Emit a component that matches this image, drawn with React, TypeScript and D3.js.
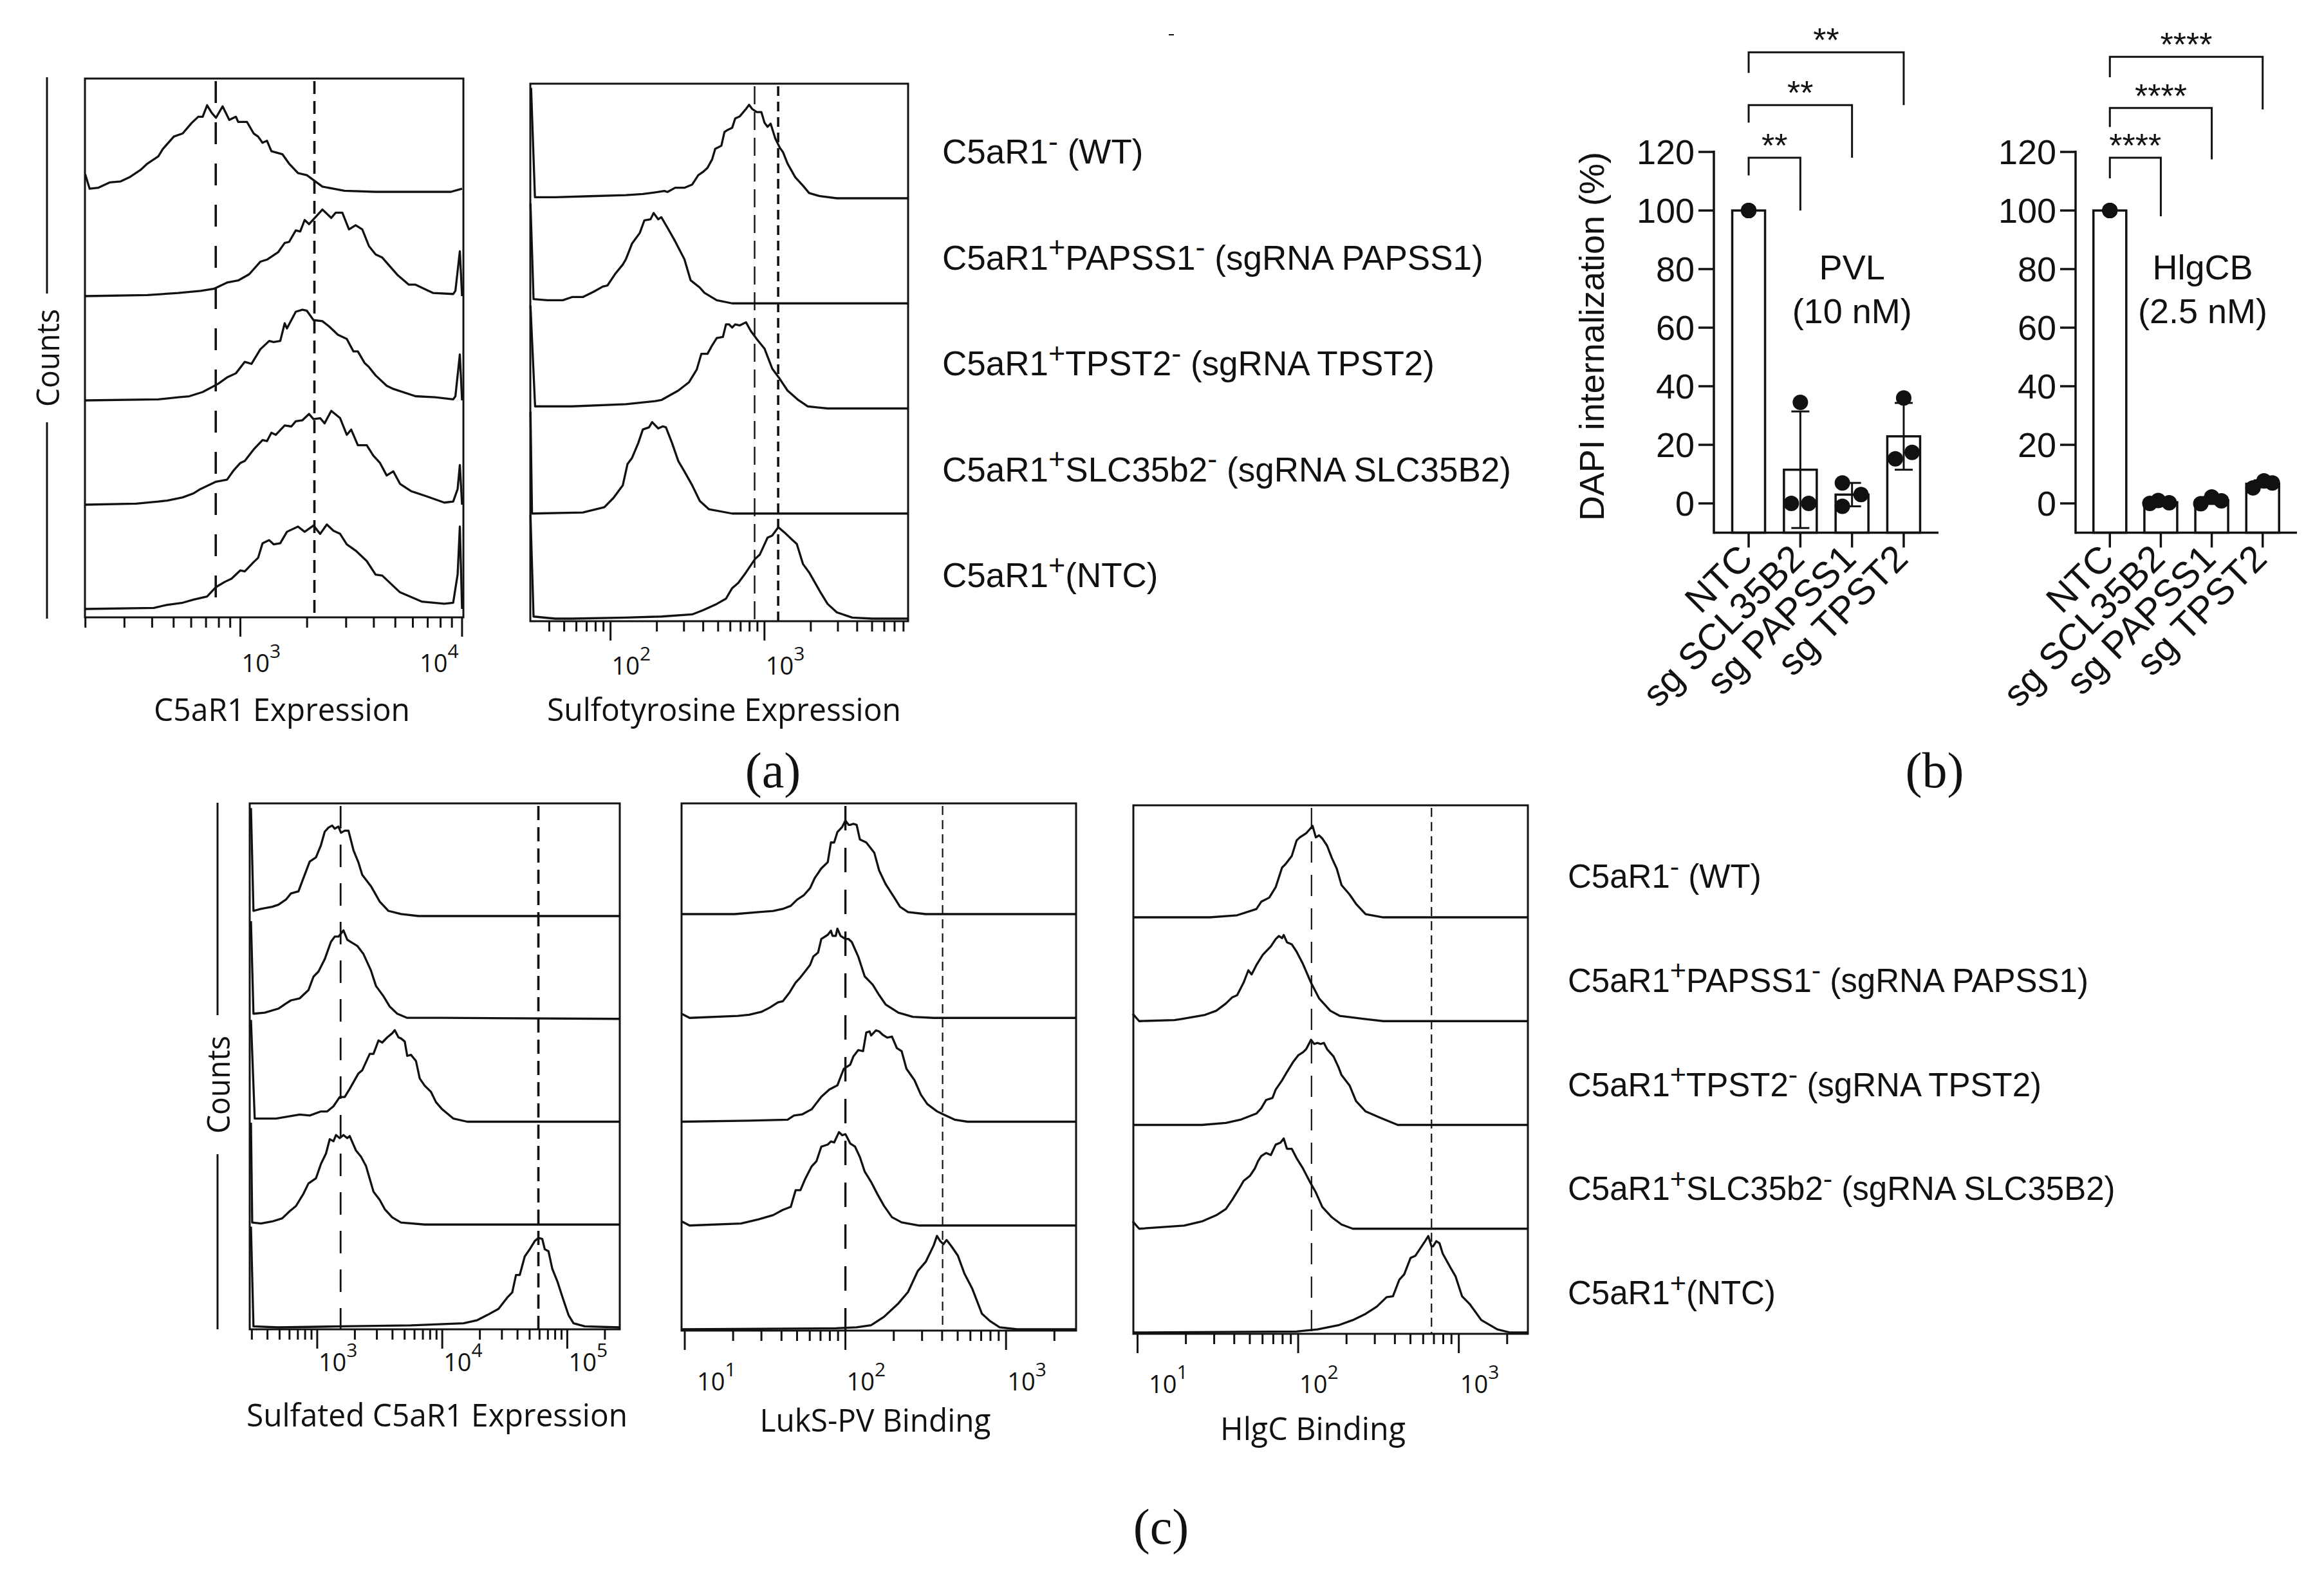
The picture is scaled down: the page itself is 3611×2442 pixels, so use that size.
import React from "react";
import * as d3 from "d3";

type Curve = [number[], number[]];
type Part = { t: string; sup?: boolean };

// ---------- Row (sample) labels ----------
const groupLabels: Part[][] = [
  [{ t: "C5aR1" }, { t: "-", sup: true }, { t: " (WT)" }],
  [{ t: "C5aR1" }, { t: "+", sup: true }, { t: "PAPSS1" }, { t: "-", sup: true }, { t: " (sgRNA PAPSS1)" }],
  [{ t: "C5aR1" }, { t: "+", sup: true }, { t: "TPST2" }, { t: "-", sup: true }, { t: " (sgRNA TPST2)" }],
  [{ t: "C5aR1" }, { t: "+", sup: true }, { t: "SLC35b2" }, { t: "-", sup: true }, { t: " (sgRNA SLC35B2)" }],
  [{ t: "C5aR1" }, { t: "+", sup: true }, { t: "(NTC)" }],
];

// ---------- Histogram data: [log10(intensity)], [count, in row heights] ----------
const c5ar1Curves: Curve[] = [
  [[2.30,2.32,2.36,2.41,2.46,2.50,2.55,2.58,2.63,2.65,2.70,2.74,2.78,2.81,2.83,2.85,2.87,2.89,2.92,2.95,2.98,2.99,3.03,3.06,3.08,3.10,3.12,3.14,3.19,3.22,3.26,3.30,3.37,3.47,3.61,3.95,4.0],
   [0.17,0.03,0.04,0.09,0.10,0.14,0.21,0.27,0.34,0.41,0.53,0.56,0.66,0.72,0.72,0.83,0.76,0.71,0.82,0.69,0.72,0.67,0.67,0.56,0.53,0.47,0.49,0.39,0.36,0.27,0.18,0.16,0.05,0.01,0,0,0.03]],
  [[2.30,2.58,2.72,2.82,2.88,2.94,2.99,3.04,3.09,3.12,3.17,3.20,3.22,3.25,3.27,3.29,3.31,3.37,3.41,3.43,3.46,3.49,3.52,3.55,3.58,3.61,3.64,3.71,3.76,3.79,3.87,3.96,3.97,3.99,4.0],
   [0,0.01,0.03,0.05,0.07,0.13,0.15,0.21,0.33,0.35,0.42,0.51,0.52,0.63,0.62,0.73,0.69,0.83,0.75,0.80,0.80,0.64,0.68,0.64,0.48,0.40,0.37,0.20,0.11,0.11,0.03,0.02,0.05,0.43,0]],
  [[2.30,2.63,2.72,2.77,2.83,2.90,2.94,2.98,3.02,3.05,3.09,3.13,3.15,3.18,3.20,3.21,3.25,3.28,3.30,3.33,3.37,3.40,3.44,3.48,3.51,3.53,3.56,3.58,3.61,3.66,3.69,3.79,3.88,3.96,3.97,3.99,4.0],
   [0,0.01,0.03,0.04,0.08,0.16,0.22,0.26,0.37,0.35,0.49,0.57,0.56,0.57,0.74,0.69,0.85,0.87,0.86,0.77,0.76,0.71,0.63,0.59,0.47,0.47,0.36,0.32,0.24,0.14,0.11,0.04,0.03,0.01,0.04,0.44,0]],
  [[2.30,2.53,2.63,2.67,2.74,2.79,2.82,2.89,2.94,2.97,3.00,3.02,3.06,3.10,3.12,3.14,3.16,3.20,3.23,3.25,3.28,3.31,3.33,3.36,3.38,3.41,3.45,3.48,3.50,3.53,3.57,3.60,3.63,3.66,3.69,3.72,3.77,3.84,3.92,3.96,3.98,3.99,4.0],
   [0,0.01,0.03,0.04,0.07,0.11,0.15,0.22,0.24,0.33,0.40,0.42,0.53,0.62,0.61,0.69,0.67,0.76,0.75,0.80,0.81,0.87,0.82,0.83,0.78,0.90,0.83,0.67,0.72,0.57,0.57,0.47,0.40,0.28,0.32,0.20,0.13,0.08,0.02,0.03,0.15,0.38,0]],
  [[2.30,2.61,2.67,2.74,2.79,2.85,2.89,2.93,2.96,3.00,3.02,3.06,3.08,3.10,3.13,3.15,3.18,3.21,3.23,3.26,3.29,3.33,3.36,3.39,3.42,3.45,3.48,3.52,3.57,3.61,3.64,3.72,3.82,3.92,3.96,3.98,3.99,4.0],
   [0,0.01,0.04,0.06,0.09,0.12,0.21,0.26,0.29,0.37,0.36,0.45,0.49,0.63,0.66,0.62,0.63,0.74,0.76,0.79,0.74,0.80,0.72,0.81,0.75,0.72,0.62,0.56,0.46,0.33,0.32,0.16,0.07,0.05,0.06,0.33,0.79,0]],
];

const sulfoCurves: Curve[] = [
  [[1.484,1.509,1.64,1.87,2.10,2.21,2.31,2.35,2.37,2.42,2.48,2.53,2.57,2.60,2.63,2.66,2.68,2.72,2.74,2.76,2.79,2.81,2.84,2.88,2.90,2.92,2.95,2.98,3.00,3.02,3.04,3.07,3.10,3.12,3.15,3.20,3.25,3.29,3.36,3.47,3.93],
   [1.05,0.01,0.01,0.02,0.03,0.04,0.06,0.07,0.06,0.10,0.10,0.13,0.22,0.25,0.29,0.37,0.47,0.50,0.63,0.65,0.67,0.76,0.78,0.85,0.89,0.85,0.82,0.82,0.72,0.68,0.71,0.57,0.48,0.44,0.33,0.20,0.12,0.05,0.02,0,0]],
  [[1.48,1.50,1.59,1.69,1.75,1.82,1.89,1.95,1.98,2.03,2.08,2.10,2.14,2.19,2.22,2.26,2.28,2.31,2.33,2.37,2.42,2.48,2.52,2.58,2.61,2.69,2.79,3.02,3.93],
   [0.95,0.04,0.03,0.03,0.06,0.06,0.11,0.16,0.17,0.28,0.37,0.42,0.57,0.67,0.79,0.80,0.86,0.80,0.82,0.72,0.59,0.42,0.22,0.15,0.10,0.03,0,0,0]],
  [[1.48,1.51,1.75,2.10,2.29,2.33,2.44,2.51,2.56,2.59,2.63,2.66,2.69,2.73,2.75,2.77,2.79,2.81,2.84,2.88,2.91,2.95,3.00,3.05,3.10,3.15,3.22,3.28,3.41,3.93],
   [0.98,0.02,0.02,0.04,0.07,0.08,0.17,0.25,0.37,0.52,0.52,0.60,0.67,0.68,0.80,0.80,0.77,0.80,0.79,0.82,0.74,0.66,0.57,0.38,0.28,0.17,0.08,0.02,0,0]],
  [[1.48,1.49,1.82,1.96,2.02,2.08,2.11,2.14,2.18,2.21,2.25,2.27,2.31,2.34,2.36,2.40,2.44,2.48,2.53,2.58,2.64,2.79,3.93],
   [0.97,0,0.01,0.06,0.15,0.27,0.47,0.53,0.67,0.80,0.82,0.87,0.81,0.83,0.82,0.67,0.50,0.40,0.27,0.12,0.04,0,0]],
  [[1.48,1.50,1.64,1.75,2.10,2.33,2.53,2.60,2.69,2.75,2.79,2.83,2.88,2.94,2.97,3.02,3.05,3.09,3.13,3.18,3.21,3.25,3.29,3.36,3.41,3.47,3.57,3.70,3.93],
   [0.99,0.02,0,0,0.01,0.02,0.04,0.08,0.14,0.19,0.29,0.34,0.44,0.57,0.61,0.77,0.79,0.87,0.82,0.75,0.71,0.52,0.44,0.26,0.14,0.06,0.01,0,0]],
];

const sulfatedCurves: Curve[] = [
  [[2.47,2.49,2.55,2.64,2.69,2.75,2.79,2.85,2.89,2.94,2.99,3.03,3.06,3.09,3.12,3.14,3.17,3.19,3.22,3.25,3.29,3.33,3.36,3.43,3.50,3.57,3.67,3.81,5.42],
   [1.05,0.05,0.07,0.09,0.11,0.16,0.22,0.24,0.37,0.53,0.57,0.69,0.82,0.86,0.88,0.85,0.87,0.81,0.83,0.83,0.64,0.52,0.40,0.29,0.14,0.05,0.02,0,0]],
  [[2.47,2.49,2.58,2.69,2.75,2.79,2.86,2.93,2.97,3.01,3.06,3.11,3.14,3.17,3.21,3.24,3.28,3.32,3.37,3.43,3.47,3.53,3.58,3.64,3.72,4.00,5.42],
   [0.95,0.05,0.06,0.10,0.15,0.18,0.20,0.28,0.41,0.46,0.58,0.75,0.80,0.80,0.86,0.77,0.74,0.71,0.63,0.47,0.32,0.22,0.12,0.05,0.01,0.01,0]],
  [[2.47,2.50,2.67,2.86,2.94,3.03,3.08,3.13,3.18,3.22,3.26,3.33,3.36,3.42,3.45,3.49,3.52,3.56,3.60,3.62,3.65,3.67,3.70,3.72,3.75,3.79,3.82,3.86,3.91,3.95,4.00,4.09,4.20,5.42],
   [0.99,0.03,0.03,0.07,0.06,0.10,0.10,0.15,0.24,0.24,0.32,0.47,0.50,0.66,0.66,0.79,0.77,0.82,0.86,0.89,0.82,0.81,0.78,0.64,0.65,0.59,0.42,0.35,0.29,0.19,0.12,0.03,0,0]],
  [[2.47,2.48,2.55,2.64,2.72,2.78,2.83,2.89,2.93,2.99,3.03,3.07,3.10,3.13,3.15,3.18,3.21,3.24,3.26,3.31,3.35,3.39,3.45,3.50,3.54,3.60,3.67,3.86,5.42],
   [0.99,0.02,0.01,0.03,0.06,0.13,0.18,0.30,0.40,0.45,0.59,0.69,0.83,0.81,0.87,0.84,0.87,0.84,0.86,0.72,0.66,0.57,0.32,0.24,0.15,0.07,0.02,0,0]],
  [[2.47,2.49,2.69,3.19,3.75,4.17,4.28,4.36,4.45,4.52,4.56,4.59,4.62,4.66,4.70,4.74,4.77,4.80,4.82,4.85,4.88,4.92,4.96,5.01,5.05,5.14,5.42],
   [0.98,0.01,0,0.01,0.02,0.04,0.07,0.12,0.18,0.29,0.34,0.51,0.51,0.69,0.76,0.84,0.87,0.86,0.76,0.74,0.57,0.45,0.30,0.12,0.04,0.01,0]],
];

const luksCurves: Curve[] = [
  [[0.98,1.31,1.46,1.55,1.61,1.66,1.70,1.74,1.78,1.81,1.85,1.89,1.91,1.93,1.95,1.98,2.00,2.02,2.03,2.05,2.07,2.09,2.13,2.18,2.21,2.25,2.30,2.34,2.39,2.50,3.44],
   [0,0,0.02,0.03,0.05,0.08,0.14,0.18,0.25,0.35,0.44,0.50,0.69,0.69,0.79,0.84,0.90,0.86,0.86,0.87,0.86,0.72,0.69,0.59,0.42,0.29,0.17,0.07,0.02,0,0]],
  [[0.98,1.03,1.33,1.40,1.48,1.53,1.58,1.61,1.65,1.69,1.72,1.75,1.78,1.80,1.83,1.85,1.89,1.91,1.92,1.94,1.95,1.97,2.00,2.02,2.04,2.08,2.12,2.17,2.21,2.25,2.33,2.42,2.55,3.44],
   [0.04,0,0.02,0.03,0.06,0.10,0.15,0.16,0.24,0.34,0.39,0.45,0.51,0.59,0.63,0.76,0.80,0.84,0.79,0.79,0.86,0.79,0.76,0.76,0.73,0.59,0.40,0.32,0.22,0.13,0.05,0.01,0,0]],
  [[0.98,1.40,1.64,1.68,1.73,1.79,1.85,1.90,1.95,1.97,1.99,2.03,2.05,2.08,2.11,2.13,2.15,2.16,2.19,2.21,2.23,2.26,2.29,2.32,2.35,2.38,2.43,2.47,2.51,2.57,2.61,2.68,2.76,3.44],
   [0,0.01,0.02,0.06,0.07,0.12,0.24,0.31,0.35,0.43,0.51,0.55,0.63,0.69,0.68,0.86,0.87,0.83,0.88,0.87,0.84,0.81,0.82,0.71,0.68,0.51,0.40,0.26,0.17,0.10,0.07,0.02,0,0]],
  [[0.98,1.03,1.35,1.46,1.55,1.61,1.66,1.69,1.72,1.75,1.79,1.82,1.85,1.89,1.91,1.93,1.96,1.98,2.00,2.03,2.06,2.09,2.12,2.16,2.20,2.24,2.29,2.35,2.46,3.44],
   [0.04,0,0.02,0.06,0.10,0.15,0.18,0.34,0.34,0.45,0.57,0.62,0.76,0.78,0.81,0.80,0.90,0.87,0.88,0.79,0.76,0.66,0.52,0.42,0.30,0.19,0.08,0.03,0,0]],
  [[0.98,1.94,2.07,2.16,2.24,2.33,2.39,2.45,2.50,2.55,2.57,2.59,2.61,2.63,2.66,2.70,2.74,2.79,2.85,2.90,2.96,3.07,3.44],
   [0,0.01,0.02,0.04,0.12,0.25,0.36,0.56,0.65,0.81,0.90,0.85,0.82,0.86,0.80,0.71,0.54,0.39,0.15,0.08,0.02,0,0]],
];

const hlgcCurves: Curve[] = [
  [[0.97,1.45,1.62,1.74,1.77,1.82,1.86,1.90,1.92,1.96,1.99,2.01,2.05,2.09,2.11,2.13,2.15,2.18,2.21,2.24,2.27,2.32,2.36,2.42,2.53,3.43],
   [0,0,0.02,0.08,0.15,0.19,0.29,0.48,0.51,0.59,0.74,0.77,0.81,0.88,0.77,0.79,0.76,0.69,0.57,0.47,0.31,0.22,0.13,0.03,0,0]],
  [[0.97,1.01,1.23,1.27,1.42,1.49,1.55,1.59,1.62,1.66,1.69,1.71,1.74,1.78,1.83,1.86,1.88,1.90,1.91,1.93,1.96,1.99,2.03,2.08,2.13,2.20,2.26,2.42,2.53,3.43],
   [0.07,0,0.01,0.02,0.06,0.10,0.17,0.23,0.25,0.37,0.49,0.45,0.54,0.64,0.72,0.79,0.82,0.80,0.83,0.76,0.74,0.67,0.55,0.37,0.22,0.10,0.05,0.02,0,0]],
  [[0.97,1.40,1.55,1.64,1.74,1.77,1.80,1.84,1.86,1.90,1.93,1.97,2.00,2.03,2.05,2.08,2.10,2.12,2.14,2.16,2.18,2.22,2.25,2.27,2.32,2.36,2.42,2.51,2.62,3.43],
   [0,0,0.02,0.05,0.11,0.16,0.24,0.26,0.34,0.43,0.51,0.61,0.67,0.70,0.73,0.82,0.78,0.79,0.78,0.79,0.73,0.66,0.56,0.48,0.38,0.23,0.13,0.07,0,0]],
  [[0.97,1.01,1.29,1.40,1.49,1.55,1.59,1.63,1.66,1.70,1.73,1.75,1.77,1.80,1.83,1.86,1.89,1.91,1.93,1.96,1.99,2.03,2.07,2.11,2.15,2.21,2.27,2.34,3.43],
   [0.07,0,0.03,0.07,0.13,0.19,0.28,0.38,0.46,0.51,0.58,0.65,0.70,0.73,0.71,0.81,0.83,0.87,0.77,0.77,0.68,0.58,0.46,0.35,0.21,0.11,0.04,0,0]],
  [[0.97,1.99,2.12,2.25,2.34,2.42,2.49,2.55,2.59,2.63,2.66,2.70,2.73,2.76,2.79,2.81,2.83,2.84,2.86,2.88,2.90,2.95,2.98,3.02,3.07,3.14,3.24,3.32,3.43],
   [0,0.01,0.03,0.07,0.12,0.18,0.25,0.34,0.35,0.51,0.56,0.72,0.74,0.81,0.88,0.93,0.83,0.83,0.88,0.86,0.76,0.62,0.54,0.35,0.27,0.12,0.03,0,0]],
];

// ---------- Bar chart data (DAPI internalization, %) ----------
const barCategories = ["NTC", "sg SCL35B2", "sg PAPSS1", "sg TPST2"];
const yTicks = [0, 20, 40, 60, 80, 100, 120];
const pvlMeans = [100, 11.5, 3.0, 22.9];
const pvlSD = [0, 19.9, 4.0, 11.4];
const pvlPoints = [[100, 100, 100], [0, 34.5, 0], [7, -1, 3], [15.2, 36, 17.4]];
const hlgcbMeans = [100, 0.4, 1.0, 6.7];
const hlgcbSD = [0, 0.5, 1.2, 1.2];
const hlgcbPoints = [[100, 100, 100], [0.0, 1.0, 0.2], [-0.1, 2.2, 0.9], [5.3, 7.7, 7.0]];
const pvlBrackets = [
  { to: 1, level: 118, left: 112, right: 100, label: "**" },
  { to: 2, level: 136, left: 130, right: 118, label: "**" },
  { to: 3, level: 154, left: 147, right: 136, label: "**" },
];
const hlgcbBrackets = [
  { to: 1, level: 118, left: 111, right: 98, label: "****" },
  { to: 2, level: 135, left: 128.5, right: 117.5, label: "****" },
  { to: 3, level: 152.5, left: 145.5, right: 134.5, label: "****" },
];

// ---------- Styles ----------
const SANS = "'Liberation Sans', Arial, sans-serif";
const FLOW = "'Open Sans', 'Noto Sans', sans-serif";
const SERIF = "'Liberation Serif', 'Times New Roman', serif";

interface Dash { v: number; dash: string; w: number }
interface HistCfg {
  curves: Curve[]; x0: number; x1: number; top: number; bottom: number;
  base0: number; base4: number; dom: [number, number]; dashes: Dash[];
  title: string; titleX: number; titleY: number; titleLen: number; tickY: number;
}

const histPanels: HistCfg[] = [
  { curves: c5ar1Curves, x0: 124, x1: 712, top: 114, bottom: 951, base0: 290, base4: 938, dom: [2.299, 4.006],
    dashes: [{ v: 2.889, dash: "34,30", w: 3.6 }, { v: 3.334, dash: "20,11", w: 3.6 }],
    title: "C5aR1 Expression", titleX: 430, titleY: 1112, titleLen: 398, tickY: 1036 },
  { curves: sulfoCurves, x0: 816, x1: 1403, top: 122, bottom: 957, base0: 300, base4: 953, dom: [1.479, 3.933],
    dashes: [{ v: 2.936, dash: "28,12", w: 2.4 }, { v: 3.089, dash: "15,9", w: 3.6 }],
    title: "Sulfotyrosine Expression", titleX: 1117, titleY: 1112, titleLen: 550, tickY: 1040 },
  { curves: sulfatedCurves, x0: 380, x1: 955, top: 1240, bottom: 2057, base0: 1415, base4: 2054, dom: [2.46, 5.42],
    dashes: [{ v: 3.187, dash: "35,25", w: 2.8 }, { v: 4.769, dash: "22,11", w: 3.6 }],
    title: "Sulfated C5aR1 Expression", titleX: 671, titleY: 2208, titleLen: 592, tickY: 2122 },
  { curves: luksCurves, x0: 1051, x1: 1664, top: 1240, bottom: 2059, base0: 1412, base4: 2057, dom: [0.98, 3.436],
    dashes: [{ v: 2.0, dash: "38,27", w: 3.4 }, { v: 2.605, dash: "14,8", w: 2.2 }],
    title: "LukS-PV Binding", titleX: 1352, titleY: 2216, titleLen: 359, tickY: 2152 },
  { curves: hlgcCurves, x0: 1753, x1: 2366, top: 1243, bottom: 2064, base0: 1417, base4: 2062, dom: [0.974, 3.43],
    dashes: [{ v: 2.083, dash: "33,19", w: 2.2 }, { v: 2.83, dash: "14,8", w: 2.2 }],
    title: "HlgC Binding", titleX: 2032, titleY: 2229, titleLen: 288, tickY: 2156 },
];

function HistPanel({ cfg }: { cfg: HistCfg }) {
  const x = d3.scaleLog().domain([Math.pow(10, cfg.dom[0]), Math.pow(10, cfg.dom[1])]).range([cfg.x0, cfg.x1]);
  const sp = (cfg.base4 - cfg.base0) / 4;
  const ticks: { v: number; major: boolean; k: number }[] = [];
  for (let k = Math.floor(cfg.dom[0]); k <= Math.ceil(cfg.dom[1]); k++) {
    for (let m = 1; m <= 9; m++) {
      const L = k + Math.log10(m);
      if (L >= cfg.dom[0] - 1e-6 && L <= cfg.dom[1] + 1e-3) ticks.push({ v: Math.pow(10, L), major: m === 1, k });
    }
  }
  return (
    <g>
      {cfg.curves.map((c, i) => {
        const base = cfg.base0 + i * sp;
        const pts = c[0].map((lv, j) => [lv, c[1][j]] as [number, number]);
        const line = d3.line<[number, number]>()
          .x((d) => x(Math.pow(10, d[0])))
          .y((d) => base - d[1] * sp);
        return <path key={i} d={line(pts) || ""} fill="none" stroke="#111" strokeWidth={3.3} strokeLinejoin="round" />;
      })}
      {cfg.dashes.map((d, i) => (
        <line key={i} x1={x(Math.pow(10, d.v))} x2={x(Math.pow(10, d.v))} y1={cfg.top + 4} y2={cfg.bottom}
          stroke="#111" strokeWidth={d.w} strokeDasharray={d.dash} />
      ))}
      <rect x={cfg.x0} y={cfg.top} width={cfg.x1 - cfg.x0} height={cfg.bottom - cfg.top} fill="none" stroke="#111" strokeWidth={3} />
      {ticks.map((t, i) => (
        <line key={i} x1={x(t.v)} x2={x(t.v)} y1={cfg.bottom} y2={cfg.bottom + (t.major ? 30 : 16)} stroke="#111" strokeWidth={3} />
      ))}
      {ticks.filter((t) => t.major).map((t, i) => {
        let sx = Math.max(x(t.v) + 2, cfg.x0 + 24);
        if (sx + 64 > cfg.x1) sx = cfg.x1 - 68;
        return (
          <text key={i} x={sx} y={cfg.tickY} fontFamily={FLOW} fontSize={38} fill="#111">
            10<tspan dy={-22} fontSize={30}>{t.k}</tspan>
          </text>
        );
      })}
      <text x={cfg.titleX} y={cfg.titleY} textAnchor="middle" fontFamily={FLOW} fontSize={50} fill="#111"
        textLength={cfg.titleLen} lengthAdjust="spacingAndGlyphs">{cfg.title}</text>
    </g>
  );
}

function RichLabel({ parts, x, y, fs }: { parts: Part[]; x: number; y: number; fs: number }) {
  let cur = 0;
  return (
    <text x={x} y={y} fontFamily={SANS} fontSize={fs} fill="#111">
      {parts.map((p, i) => {
        const target = p.sup ? -0.36 * fs : 0;
        const dy = target - cur;
        cur = target;
        return <tspan key={i} dy={dy} fontSize={p.sup ? fs * 0.85 : fs}>{p.t}</tspan>;
      })}
    </text>
  );
}

function Counts({ x, y1, y2, mid, gap }: { x: number; y1: number; y2: number; mid: number; gap: number }) {
  return (
    <g>
      <line x1={x} x2={x} y1={y1} y2={mid - gap} stroke="#111" strokeWidth={3} />
      <line x1={x} x2={x} y1={mid + gap} y2={y2} stroke="#111" strokeWidth={3} />
      <text transform={`translate(${x},${mid}) rotate(-90)`} textAnchor="middle" dominantBaseline="central"
        fontFamily={FLOW} fontSize={50} fill="#111" textLength={152} lengthAdjust="spacingAndGlyphs">Counts</text>
    </g>
  );
}

interface BarCfg {
  x0: number; x1: number; means: number[]; sds: number[]; points: number[][]; jitter: number[][];
  brackets: { to: number; level: number; left: number; right: number; label: string }[];
  agent: string; conc: string; agentDx: number; yTitle: boolean;
}

const pvlJitter = [[0, 0, 0], [-14, 0, 13], [-15, -15, 14], [-13, 0, 13]];
const hlgcbJitter = [[0, 0, 0], [-17, -4, 13], [-17, 0, 15], [-15, 2, 15]];

const barPanels: BarCfg[] = [
  { x0: 2655, x1: 3004, means: pvlMeans, sds: pvlSD, points: pvlPoints, jitter: pvlJitter, brackets: pvlBrackets,
    agent: "PVL", conc: "(10 nM)", agentDx: 0, yTitle: true },
  { x0: 3217, x1: 3561, means: hlgcbMeans, sds: hlgcbSD, points: hlgcbPoints, jitter: hlgcbJitter, brackets: hlgcbBrackets,
    agent: "HlgCB", conc: "(2.5 nM)", agentDx: -14, yTitle: false },
];

function BarPanel({ cfg }: { cfg: BarCfg }) {
  const y = d3.scaleLinear().domain([-10, 120]).range([819.5, 228]);
  const x = d3.scalePoint<string>().domain(barCategories).range([cfg.x0, cfg.x1]).padding(0.673);
  const bw = 51;
  const ax = y(-10);
  const sw = 3.5;
  return (
    <g fontFamily={SANS} fill="#111">
      {cfg.means.map((m, i) => {
        const cx = x(barCategories[i])!;
        return <rect key={i} x={cx - bw / 2} y={y(Math.max(m, 0))} width={bw} height={ax - y(Math.max(m, 0))}
          fill="#fff" stroke="#111" strokeWidth={sw} />;
      })}
      {cfg.means.map((m, i) => {
        const cx = x(barCategories[i])!;
        const sd = cfg.sds[i];
        if (sd <= 0) return null;
        return (
          <g key={i} stroke="#111" strokeWidth={3}>
            <line x1={cx} x2={cx} y1={y(m - sd)} y2={y(m + sd)} />
            <line x1={cx - 14} x2={cx + 14} y1={y(m - sd)} y2={y(m - sd)} />
            <line x1={cx - 14} x2={cx + 14} y1={y(m + sd)} y2={y(m + sd)} />
          </g>
        );
      })}
      {cfg.points.map((ps, i) => ps.map((v, j) => (
        <circle key={`${i}-${j}`} cx={x(barCategories[i])! + cfg.jitter[i][j]} cy={y(v)} r={12} fill="#111" />
      )))}
      <line x1={cfg.x0} x2={cfg.x0} y1={y(120) - 2} y2={ax + sw / 2} stroke="#111" strokeWidth={sw} />
      <line x1={cfg.x0} x2={cfg.x1} y1={ax} y2={ax} stroke="#111" strokeWidth={sw} />
      {yTicks.map((t) => (
        <g key={t}>
          <line x1={cfg.x0 - 24} x2={cfg.x0} y1={y(t)} y2={y(t)} stroke="#111" strokeWidth={sw} />
          <text x={cfg.x0 - 30} y={y(t) + 19} textAnchor="end" fontSize={54}>{t}</text>
        </g>
      ))}
      {barCategories.map((c) => (
        <g key={c}>
          <line x1={x(c)!} x2={x(c)!} y1={ax} y2={ax + 23} stroke="#111" strokeWidth={sw} />
          <text transform={`translate(${x(c)! - 20},${ax + 14}) rotate(-45)`} textAnchor="end" dy="0.72em" fontSize={58}>{c}</text>
        </g>
      ))}
      {cfg.brackets.map((b, i) => {
        const xa = x(barCategories[0])!;
        const xb = x(barCategories[b.to])!;
        return (
          <g key={i}>
            <path d={`M${xa},${y(b.left)}V${y(b.level)}H${xb}V${y(b.right)}`} fill="none" stroke="#111" strokeWidth={3} />
            <text x={(xa + xb) / 2} y={y(b.level) - 1} textAnchor="middle" fontSize={52}>{b.label}</text>
          </g>
        );
      })}
      <text x={x(barCategories[2])! + cfg.agentDx} y={y(76.5)} textAnchor="middle" fontSize={54}>{cfg.agent}</text>
      <text x={x(barCategories[2])! + cfg.agentDx} y={y(61.5)} textAnchor="middle" fontSize={54}>{cfg.conc}</text>
      {cfg.yTitle && (
        <text transform={`translate(${cfg.x0 - 171},${y(57)}) rotate(-90)`} textAnchor="middle" fontSize={54}>
          DAPI internalization  (%)
        </text>
      )}
    </g>
  );
}

export default function App() {
  return (
    <svg width={3611} height={2442} viewBox="0 0 3611 2442" style={{ display: "block", background: "#fff" }}>
      <rect width={3611} height={2442} fill="#fff" />
      <line x1={1808} x2={1816} y1={46} y2={46} stroke="#111" strokeWidth={2} />
      {histPanels.map((p, i) => <HistPanel key={i} cfg={p} />)}
      <Counts x={65} y1={112} y2={953} mid={548} gap={100} />
      <Counts x={330} y1={1239} y2={2057} mid={1677} gap={108} />
      {groupLabels.map((g, i) => <RichLabel key={`a${i}`} parts={g} x={1456} y={246 + i * 164.5} fs={53} />)}
      {groupLabels.map((g, i) => <RichLabel key={`c${i}`} parts={g} x={2428} y={1371 + i * 161.75} fs={51} />)}
      {barPanels.map((b, i) => <BarPanel key={i} cfg={b} />)}
      <text x={1193} y={1215} textAnchor="middle" fontFamily={SERIF} fontSize={78} fill="#111">(a)</text>
      <text x={2998} y={1215} textAnchor="middle" fontFamily={SERIF} fontSize={78} fill="#111">(b)</text>
      <text x={1796} y={2390} textAnchor="middle" fontFamily={SERIF} fontSize={78} fill="#111">(c)</text>
    </svg>
  );
}
